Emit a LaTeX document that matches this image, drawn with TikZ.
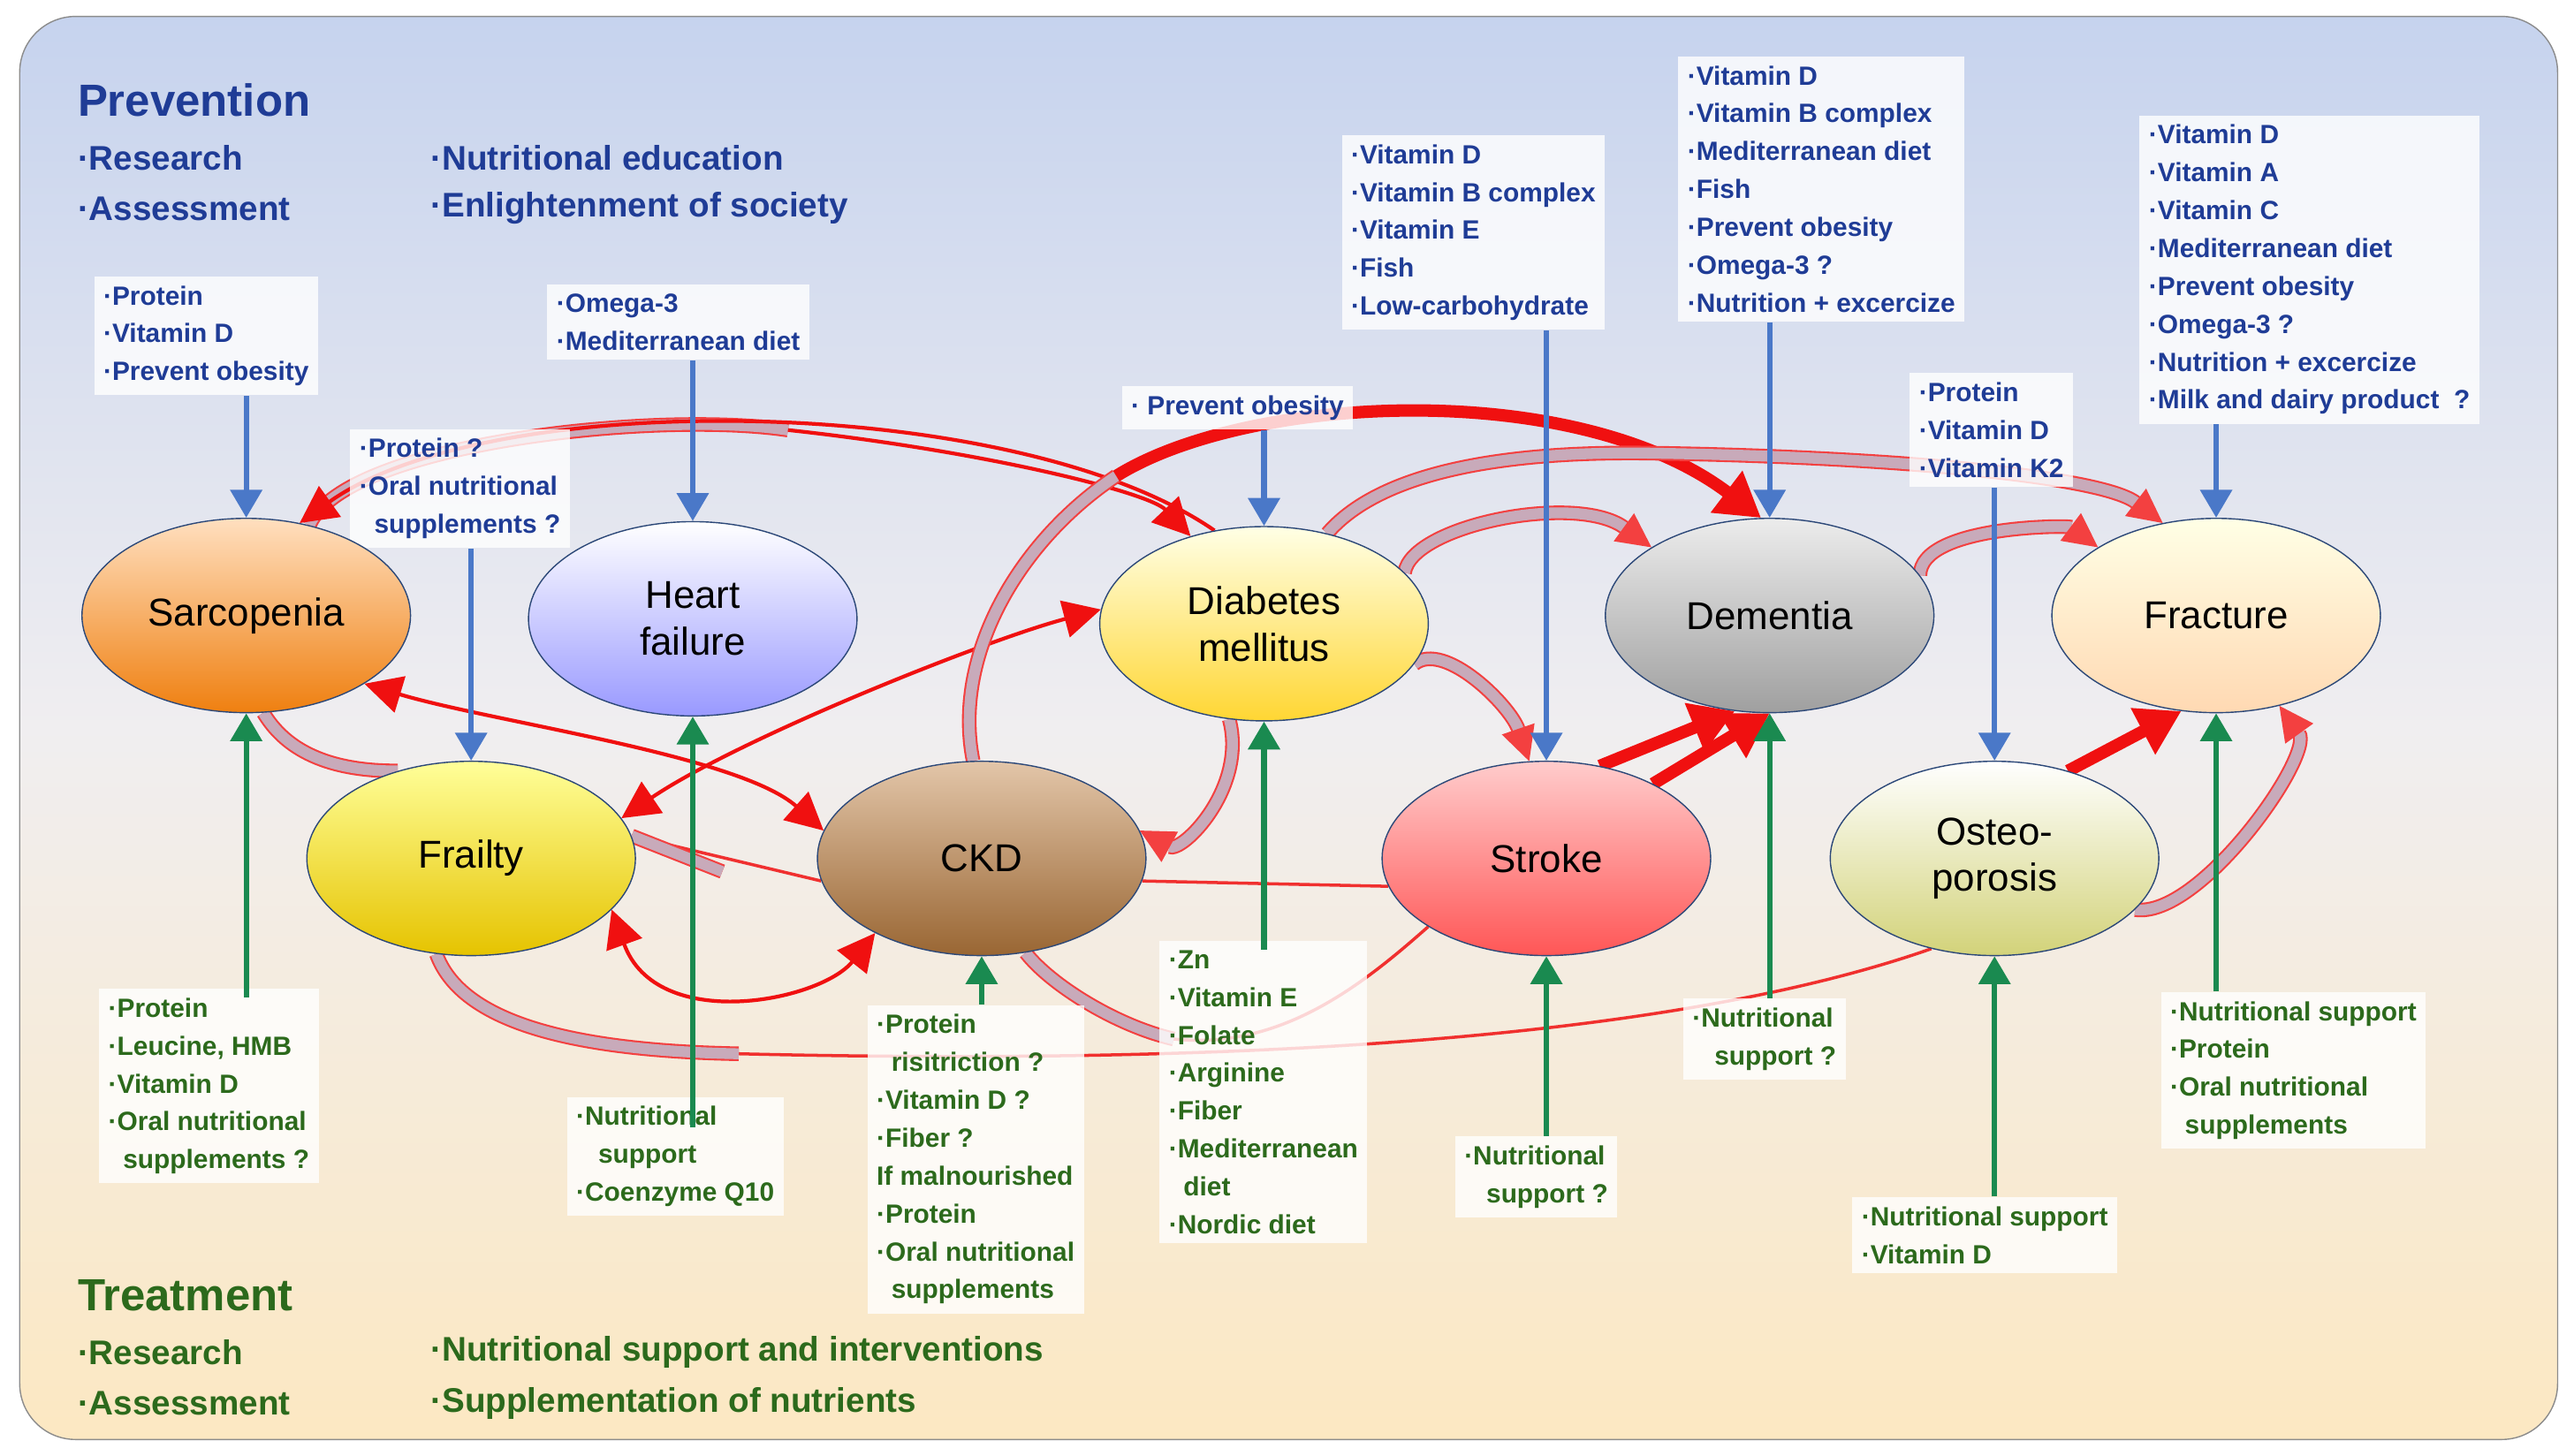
\documentclass[tikz,border=0pt]{standalone}
\usepackage{fontspec}
\setmainfont{Liberation Sans}
\usetikzlibrary{shapes.geometric, arrows.meta}
\definecolor{bgtop}{HTML}{C6D3EE}
\definecolor{bgmid}{HTML}{F0EEF0}
\definecolor{bgbot}{HTML}{FCE8C2}
\definecolor{tblue}{HTML}{1F3C96}
\definecolor{tgreen}{HTML}{2C6A1C}
\definecolor{ablue}{HTML}{4A78C8}
\definecolor{agreen}{HTML}{1A8A50}
\definecolor{ared}{HTML}{F01010}
\definecolor{ribc}{HTML}{C8AABA}
\pgfdeclarelayer{back}
\pgfdeclarelayer{rel}
\pgfsetlayers{back,rel,main}
\begin{document}
\begin{tikzpicture}[x=0.01858cm, y=-0.01858cm,
  dis/.style={ellipse, draw=ablue!60!black, thin, minimum width=3.72cm, minimum height=2.2cm,
    align=center, font=\fontsize{12.5}{15}\selectfont},
  bx/.style={anchor=north west, fill=white, fill opacity=.8, text opacity=1, inner sep=3pt,
    align=left, font=\bfseries\fontsize{8.5}{12.2}\selectfont},
  bb/.style={bx, text=tblue},
  gb/.style={bx, text=tgreen},
  head/.style={anchor=west, inner sep=0pt, font=\bfseries\fontsize{11}{13}\selectfont},
  barr/.style={draw=ablue, line width=1.8pt, -{Triangle[length=9pt, width=10pt]}},
  garr/.style={draw=agreen, line width=1.8pt, -{Triangle[length=9pt, width=10pt]}},
  rarr/.style={draw=ared, line width=1.2pt, -{Triangle[length=12pt, width=12pt]}},
  rarr2/.style={rarr, {Triangle[length=12pt, width=12pt]}-{Triangle[length=12pt, width=12pt]}},
  fat/.style={draw=ared, line width=4pt, -{Triangle[length=14pt, width=16pt]}},
  rib/.style={draw=ared!80, double=ribc, double distance=3.5pt, line width=0.6pt},
  ribh/.style={rib, -{Triangle[length=11pt, width=11pt]}},
  thinl/.style={draw=ared, line width=1pt, opacity=.85}]
\useasboundingbox (0,0) rectangle (1568,887);
\begin{pgfonlayer}{back}
\shade[top color=bgtop, bottom color=bgbot, middle color=bgmid, draw=black!45, rounded corners=18pt]
  (12,10) rectangle (1558,877);
\end{pgfonlayer}

% headings
\node[head, text=tblue, font=\bfseries\fontsize{14.5}{16}\selectfont] (prev) at (47,61) {Prevention};
\node[head, text=tblue] (p1) at (47,96) {·Research};
\node[head, text=tblue] (p2) at (47,127) {·Assessment};
\node[head, text=tblue] (p3) at (262,96) {·Nutritional education};
\node[head, text=tblue] (p4) at (262,127) {·Enlightenment of society};
\node[head, text=tgreen, font=\bfseries\fontsize{14.5}{16}\selectfont] (treat) at (47,789) {Treatment};
\node[head, text=tgreen] (t1) at (47,824) {·Research};
\node[head, text=tgreen] (t2) at (47,855) {·Assessment};
\node[head, text=tgreen] (t3) at (262,824) {·Nutritional support and interventions};
\node[head, text=tgreen] (t4) at (262,855) {·Supplementation of nutrients};

% boxes
\node[bb] (b1) at (57,168) {·Protein\\·Vitamin D\\·Prevent obesity};
\node[bb] (b2) at (333,173) {·Omega-3\\·Mediterranean diet};
\node[bb] (b3) at (213,261) {·Protein ?\\·Oral nutritional\\\ \ supplements ?};
\node[bb] (b4) at (683,235) {· Prevent obesity};
\node[bb] (b5) at (817,82) {·Vitamin D\\·Vitamin B complex\\·Vitamin E\\·Fish\\·Low-carbohydrate};
\node[bb] (b6) at (1022,34) {·Vitamin D\\·Vitamin B complex\\·Mediterranean diet\\·Fish\\·Prevent obesity\\·Omega-3 ?\\·Nutrition + excercize};
\node[bb] (b7) at (1163,227) {·Protein\\·Vitamin D\\·Vitamin K2};
\node[bb] (b8) at (1303,70) {·Vitamin D\\·Vitamin A\\·Vitamin C\\·Mediterranean diet\\·Prevent obesity\\·Omega-3 ?\\·Nutrition + excercize\\·Milk and dairy product\ \ ?};

\node[gb] (g1) at (60,602) {·Protein\\·Leucine, HMB\\·Vitamin D\\·Oral nutritional\\\ \ supplements ?};
\node[gb] (g2) at (345,668) {·Nutritional\\\ \ \ support\\·Coenzyme Q10};
\node[gb] (g3) at (528,612) {·Protein\\\ \ risitriction ?\\·Vitamin D ?\\·Fiber ?\\If malnourished\\·Protein\\·Oral nutritional\\\ \ supplements};
\node[gb] (g4) at (706,573) {·Zn\\·Vitamin E\\·Folate\\·Arginine\\·Fiber\\·Mediterranean\\\ \ diet\\·Nordic diet};
\node[gb] (g5) at (886,692) {·Nutritional\\\ \ \ support ?};
\node[gb] (g6) at (1025,608) {·Nutritional\\\ \ \ support ?};
\node[gb] (g7) at (1128,729) {·Nutritional support\\·Vitamin D};
\node[gb] (g8) at (1316,604) {·Nutritional support\\·Protein\\·Oral nutritional\\\ \ supplements};

% diseases
\node[dis, top color=orange!25, bottom color=orange!75!brown] (sarc) at (150,375) {Sarcopenia};
\node[dis, top color=white, bottom color=blue!40] (hf) at (422,377) {Heart\\failure};
\node[dis, top color=yellow!10, bottom color=yellow!60!orange!80] (dm) at (770,380) {Diabetes\\mellitus};
\node[dis, top color=gray!15, bottom color=gray!75] (dem) at (1078,375) {Dementia};
\node[dis, top color=yellow!10, bottom color=orange!30] (frac) at (1350,375) {Fracture};
\node[dis, top color=yellow!40, bottom color=yellow!70!orange!90!black] (fra) at (287,523) {Frailty};
\node[dis, top color=brown!45, bottom color=brown!80!black] (ckd) at (598,523) {CKD};
\node[dis, top color=red!20, bottom color=red!55!pink] (str) at (942,523) {Stroke};
\node[dis, top color=white, bottom color=olive!35] (ost) at (1215,523) {Osteo-\\porosis};

% blue arrows
\draw[barr] (b1.south -| sarc) -- (sarc.north);
\draw[barr] (b2.south -| hf) -- (hf.north);
\draw[barr] (b3.south -| fra) -- (fra.north);
\draw[barr] (b4.south -| dm) -- (dm.north);
\draw[barr] (b5.south -| str) -- (str.north);
\draw[barr] (b6.south -| dem) -- (dem.north);
\draw[barr] (b7.south -| ost) -- (ost.north);
\draw[barr] (b8.south -| frac) -- (frac.north);

% green arrows
\draw[garr] ([yshift=-3]g1.north -| sarc) -- (sarc.south);
\draw[garr] ([yshift=-10]g2.north -| hf) -- (hf.south);
\draw[garr] (g3.north -| ckd) -- (ckd.south);
\draw[garr] ([yshift=-3]g4.north -| dm) -- (dm.south);
\draw[garr] (g5.north -| str) -- (str.south);
\draw[garr] (g6.north -| dem) -- (dem.south);
\draw[garr] (g7.north -| ost) -- (ost.south);
\draw[garr] (g8.north -| frac) -- (frac.south);

% relations
\begin{pgfonlayer}{rel}
\draw[thinl] (fra.250) .. controls (280,620) and (340,640) .. (450,642) .. controls (700,648) and (1000,640) .. (ost.235);
\draw[rib] (fra.250) .. controls (280,620) and (340,640) .. (450,642);
\draw[thinl] (ckd.295) .. controls (640,600) and (680,625) .. (715,633) .. controls (780,640) and (830,600) .. (str.210);
\draw[rib] (ckd.295) .. controls (640,600) and (680,625) .. (715,633);
\draw[thinl] (fra.8) -- (ckd.188);
\draw[rib] (fra.8) -- (440,531);
\draw[thinl] (ckd.-8) -- (str.190);
\draw[rib] (sarc.280) .. controls (170,450) and (190,470) .. (fra.130);
\draw[rarr2] (sarc.-30) .. controls (300,440) and (450,460) .. (ckd.170);
\draw[rarr2] (fra.15) .. controls (450,450) and (600,390) .. (dm.175);
\draw[rarr2] (fra.-20) .. controls (400,630) and (500,610) .. (ckd.215);
\draw[rib] (sarc.55) .. controls (210,270) and (400,250) .. (480,262);
\draw[rarr] (480,262) .. controls (600,275) and (700,300) .. (dm.130);
\draw[rarr] (dm.118) .. controls (620,240) and (300,235) .. (sarc.60);
\draw[rib] (ckd.95) .. controls (580,400) and (620,330) .. (680,290);
\draw[fat] (680,290) .. controls (760,240) and (960,230) .. (dem.95);
\draw[ribh] (dm.250) .. controls (760,480) and (720,520) .. (ckd.10);
\draw[ribh] (dm.-15) .. controls (880,390) and (920,430) .. (str.100);
\draw[ribh] (dm.20) .. controls (860,320) and (960,300) .. (dem.150);
\draw[ribh] (dm.55) .. controls (830,300) and (880,275) .. (1000,276) .. controls (1150,278) and (1280,290) .. (frac.120);
\draw[fat] (str.60) -- (dem.250);
\draw[fat] (str.35) -- (dem.270);
\draw[ribh] (dem.15) .. controls (1170,320) and (1260,320) .. (frac.150);
\draw[fat] (ost.50) -- (frac.250);
\draw[ribh] (ost.-20) .. controls (1340,560) and (1410,460) .. (frac.-55);
\end{pgfonlayer}
\end{tikzpicture}
\end{document}
